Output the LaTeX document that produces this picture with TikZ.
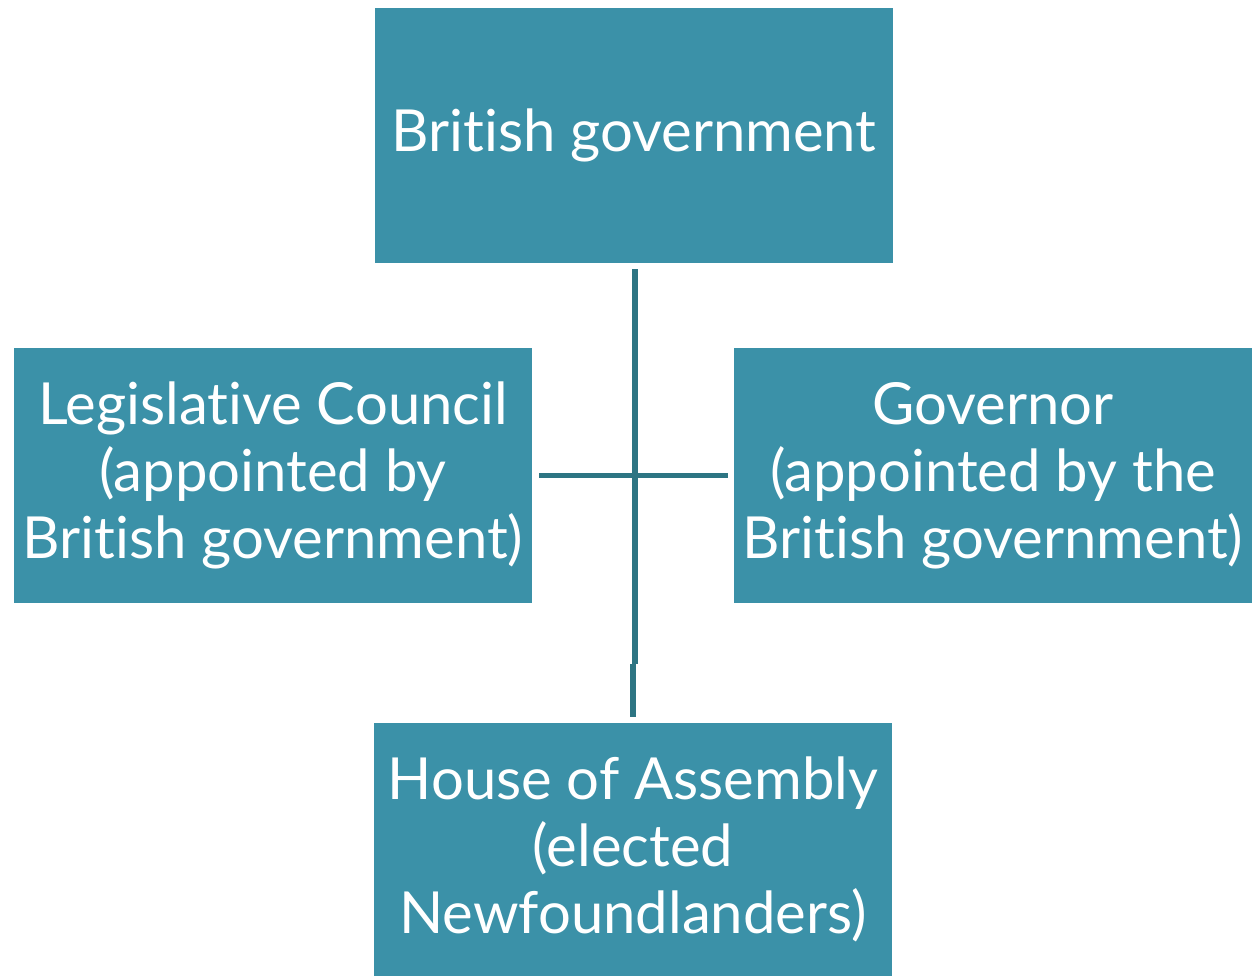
\documentclass[tikz,border=0pt]{standalone}
\usepackage{fontspec}
\setmainfont{Lato}[Ligatures=NoCommon]
\definecolor{boxfill}{HTML}{3B91A8}
\definecolor{linecol}{HTML}{2D7583}
\begin{document}
\begin{tikzpicture}[x=1pt,y=-1pt,
  box/.style={fill=boxfill, draw=none, text=white, minimum width=518pt, minimum height=255pt,
    inner sep=0pt, align=center, font=\fontsize{58}{67}\selectfont},
  conn/.style={draw=linecol, line width=5.5pt}]
\useasboundingbox (0,0) rectangle (1259,976);
\node[box] (top) at (634,135.5) {British government};
\node[box] (left) at (273,475.5) {Legislative Council\\(appointed by\\British government)};
\node[box] (right) at (993,475.5) {Governor\\(appointed by the\\British government)};
\node[box, minimum height=253pt] (bottom) at (633,849.5) {House of Assembly\\(elected\\Newfoundlanders)};
\coordinate (jogtop) at (635,664);
\coordinate (jogbot) at (633,664);
\draw[conn] ([xshift=1pt,yshift=-6pt]top.south) -- (jogtop);
\draw[conn] (jogbot) -- ([yshift=6pt]bottom.north);
\draw[conn] ([xshift=7pt]left.east) -- ([xshift=-6pt]right.west);
\end{tikzpicture}
\end{document}
